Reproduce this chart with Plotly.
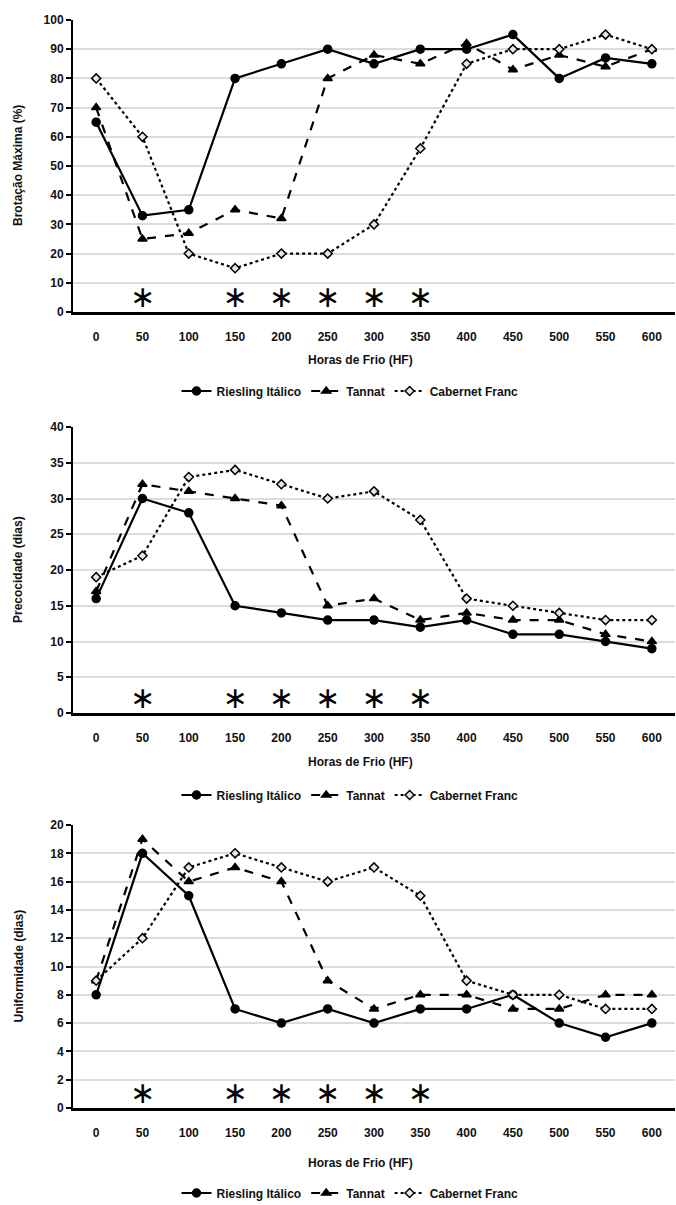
import plotly.graph_objects as go

hours = [0, 50, 100, 150, 200, 250, 300, 350, 400, 450, 500, 550, 600]
cultivars = ["Riesling Itálico", "Tannat", "Cabernet Franc"]

brot_riesling = [65, 33, 35, 80, 85, 90, 85, 90, 90, 95, 80, 87, 85]
brot_tannat = [70, 25, 27, 35, 32, 80, 88, 85, 92, 83, 88, 84, 90]
brot_cabernet = [80, 60, 20, 15, 20, 20, 30, 56, 85, 90, 90, 95, 90]

prec_riesling = [16, 30, 28, 15, 14, 13, 13, 12, 13, 11, 11, 10, 9]
prec_tannat = [17, 32, 31, 30, 29, 15, 16, 13, 14, 13, 13, 11, 10]
prec_cabernet = [19, 22, 33, 34, 32, 30, 31, 27, 16, 15, 14, 13, 13]

unif_riesling = [8, 18, 15, 7, 6, 7, 6, 7, 7, 8, 6, 5, 6]
unif_tannat = [9, 19, 16, 17, 16, 9, 7, 8, 8, 7, 7, 8, 8]
unif_cabernet = [9, 12, 17, 18, 17, 16, 17, 15, 9, 8, 8, 7, 7]

sig_hours = [50, 150, 200, 250, 300, 350]
sig_y = [4.3, 1.7, 0.85]

y_titles = ["Brotação Máxima (%)", "Precocidade (dias)", "Uniformidade (dias)"]
y_ranges = [(0, 100, 10), (0, 40, 5), (0, 20, 2)]
x_title = "Horas de Frio (HF)"

panels = [
    (brot_riesling, brot_tannat, brot_cabernet),
    (prec_riesling, prec_tannat, prec_cabernet),
    (unif_riesling, unif_tannat, unif_cabernet),
]

H = 1205
W = 676
L = 73
R = 1
# pixel positions: (top, bottom) of each plot area, title y, legend y
px = [(20, 312, 360, 391), (427, 713, 762, 795), (825, 1108, 1163, 1193)]

def fy(p):
    return 1 - p / H

def fx(p):
    return (p - L) / (W - L - R)

styles = [
    dict(dash="solid", symbol="circle", mcolor="black", msize=8),
    dict(dash="dash", symbol="triangle-up", mcolor="black", msize=8),
    dict(dash="dot", symbol="diamond", mcolor="#e6e6e6", msize=7),
]

font_family = "Liberation Sans, Arial, sans-serif"
fig = go.Figure()
layout = {}
annotations = []

for i, series in enumerate(panels):
    xa = "x" if i == 0 else f"x{i+1}"
    ya = "y" if i == 0 else f"y{i+1}"
    lg = "legend" if i == 0 else f"legend{i+1}"
    for j, vals in enumerate(series):
        st = styles[j]
        fig.add_trace(go.Scatter(
            x=hours, y=vals, name=cultivars[j], mode="lines+markers",
            xaxis=xa, yaxis=ya, legend=lg,
            line=dict(color="black", width=2.2, dash=st["dash"]),
            marker=dict(symbol=st["symbol"], size=st["msize"], color=st["mcolor"],
                        line=dict(color="black", width=1.5)),
        ))
    fig.add_trace(go.Scatter(
        x=sig_hours, y=[sig_y[i]] * len(sig_hours), mode="text",
        text=["∗"] * len(sig_hours), textposition="middle center",
        textfont=dict(size=30, color="black", family="DejaVu Sans"),
        xaxis=xa, yaxis=ya, showlegend=False, hoverinfo="skip",
    ))
    top, bot, ttl, lgy = px[i]
    lo, hi, dt = y_ranges[i]
    xkey = "xaxis" if i == 0 else f"xaxis{i+1}"
    ykey = "yaxis" if i == 0 else f"yaxis{i+1}"
    layout[xkey] = dict(
        domain=[0, 1], anchor=ya, range=[-25, 625], tickmode="array",
        tickvals=hours, ticktext=[str(h) for h in hours], showgrid=False,
        showline=True, linecolor="black", linewidth=2.5, ticks="",
        ticklabelstandoff=12,
        tickfont=dict(size=12, family=font_family, color="#111", weight="bold"),
        zeroline=False, fixedrange=True, automargin=False,
    )
    layout[ykey] = dict(
        domain=[fy(bot), fy(top)], anchor=xa, range=[lo, hi], dtick=dt,
        showgrid=True, gridcolor="#dcdcdc", gridwidth=1.5,
        showline=True, linecolor="black", linewidth=2, ticks="outside",
        ticklen=5, tickwidth=1.5, tickcolor="black", zeroline=False,
        tickfont=dict(size=12, family=font_family, color="#111", weight="bold"),
        fixedrange=True, automargin=False,
    )
    layout[lg] = dict(
        orientation="h", xref="paper", yref="paper",
        x=fx(350), xanchor="center", y=fy(lgy), yanchor="middle",
        font=dict(size=12, family=font_family, color="#111", weight="bold"),
        bgcolor="rgba(0,0,0,0)", itemwidth=30, tracegroupgap=0,
    )
    annotations.append(dict(
        text=x_title, xref="paper", yref="paper", x=fx(360), y=fy(ttl),
        xanchor="center", yanchor="middle", showarrow=False,
        font=dict(size=12, family=font_family, color="#111", weight="bold"),
    ))
    annotations.append(dict(
        text=y_titles[i], xref="paper", yref="paper", x=fx(18),
        y=fy((top + bot) / 2), xanchor="center", yanchor="middle",
        showarrow=False, textangle=-90,
        font=dict(size=12, family=font_family, color="#111", weight="bold"),
    ))

fig.update_layout(
    width=W, height=H, margin=dict(l=L, r=R, t=0, b=0, autoexpand=False),
    paper_bgcolor="white", plot_bgcolor="white",
    annotations=annotations, **layout,
)

fig.write_html("out.html", config={"displayModeBar": False},
               post_script="document.body.style.margin='0';")
